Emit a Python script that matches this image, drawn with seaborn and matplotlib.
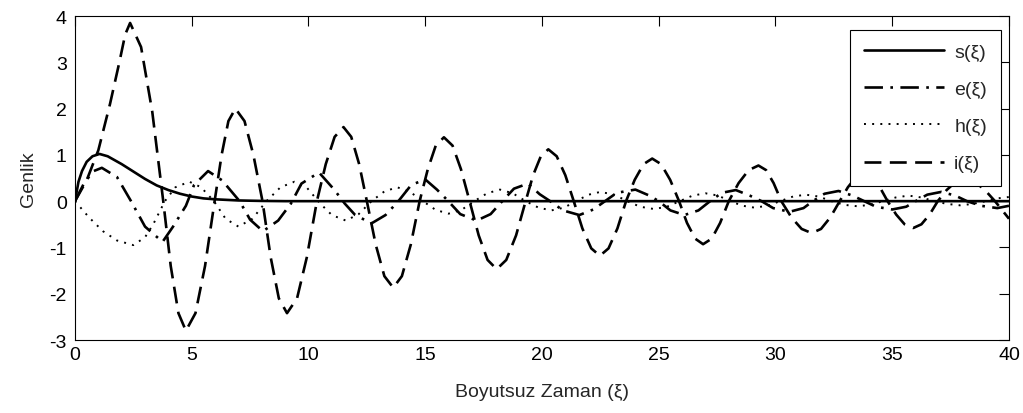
import matplotlib
matplotlib.use('Agg')
import matplotlib.pyplot as plt
import seaborn as sns

# s(xi) - solid
s_x = [0, 0.15, 0.3, 0.5, 0.75, 1.05, 1.4, 2.0, 2.5, 3.0, 3.5, 4.0, 4.5, 5.0, 5.5, 6.0, 7.0, 8.0, 9.0, 40.0]
s_y = [0, 0.42, 0.65, 0.85, 0.97, 1.02, 0.97, 0.8, 0.64, 0.48, 0.34, 0.24, 0.16, 0.1, 0.06, 0.04, 0.015, 0.005, 0.0, 0.0]

# e(xi) - dash-dot
e_x = [0, 0.4, 0.8, 1.15, 1.8, 2.4, 3.0, 3.75, 4.2, 4.75, 5.1, 5.7, 6.3, 7.05, 7.5, 8.05,
       8.7, 9.25, 9.7, 10.45, 11.1, 11.55, 12.0, 12.7, 13.3, 13.85, 14.4, 15.0, 15.5, 15.95,
       16.5, 17.2, 17.8, 18.3, 18.8, 19.4, 19.9, 20.35, 20.9, 21.6, 22.2, 22.7, 23.2, 24.0,
       24.6, 25.0, 25.5, 26.1, 26.7, 27.2, 27.7, 28.3, 28.9, 29.4, 29.9, 30.6, 31.2, 31.6,
       32.1, 32.7, 33.3, 33.8, 34.3, 35.0, 35.6, 36.0, 36.5, 37.1, 37.7, 38.2, 38.8, 39.5, 40.0]
e_y = [0, 0.4, 0.65, 0.72, 0.52, 0.0, -0.55, -0.88, -0.55, -0.1, 0.35, 0.65, 0.45, 0.0, -0.4, -0.65,
       -0.42, -0.05, 0.38, 0.62, 0.25, -0.05, -0.3, -0.48, -0.3, 0.0, 0.35, 0.47, 0.25, 0.02,
       -0.28, -0.42, -0.28, 0.0, 0.27, 0.38, 0.15, 0.0, -0.2, -0.3, -0.18, 0.0, 0.18, 0.25,
       0.12, 0.0, -0.2, -0.3, -0.2, 0.0, 0.18, 0.24, 0.12, 0.0, -0.15, -0.23, -0.15, 0.0,
       0.16, 0.22, 0.12, 0.0, -0.12, -0.18, -0.12, 0.0, 0.14, 0.2, 0.12, 0.0, -0.1, -0.15, -0.1]

# h(xi) - dotted
h_x = [0, 0.6, 1.2, 1.8, 2.5, 3.0, 3.35, 3.85, 4.3, 4.9, 5.4, 5.95, 6.45, 7.0, 7.6, 8.2,
       8.8, 9.4, 9.95, 10.5, 11.0, 11.6, 12.15, 12.7, 13.25, 13.8, 14.35, 14.9, 15.45, 16.0,
       16.55, 17.1, 17.65, 18.2, 18.75, 19.3, 19.85, 20.4, 20.95, 21.45, 22.0, 22.5, 23.1,
       23.65, 24.2, 24.8, 25.35, 25.9, 26.45, 27.0, 27.55, 28.05, 28.6, 29.1, 29.65, 30.2,
       30.75, 31.3, 31.85, 32.4, 32.95, 33.5, 34.05, 34.6, 35.15, 35.7, 36.25, 36.8, 37.35,
       37.9, 38.45, 39.0, 39.5, 40.0]
h_y = [0, -0.35, -0.65, -0.85, -0.95, -0.78, -0.5, 0.0, 0.3, 0.42, 0.3, 0.0, -0.38, -0.55, -0.38, 0.0,
       0.3, 0.42, 0.28, -0.05, -0.3, -0.42, -0.28, 0.0, 0.21, 0.3, 0.2, 0.0, -0.19, -0.27,
       -0.19, 0.0, 0.17, 0.25, 0.17, 0.0, -0.14, -0.2, -0.14, 0.0, 0.14, 0.2, 0.14,
       0.0, -0.12, -0.17, -0.12, 0.0, 0.12, 0.17, 0.12, 0.0, -0.1, -0.14, -0.1, 0.0,
       0.1, 0.14, 0.1, 0.0, -0.08, -0.11, -0.08, 0.0, 0.08, 0.12, 0.08, 0.0, -0.06,
       -0.09, -0.06, 0.0, 0.06, 0.09]

# i(xi) - dashed
i_x = [0, 0.5, 1.0, 1.5, 1.9, 2.15, 2.36, 2.83, 3.31, 3.78, 4.1, 4.43, 4.75, 5.16, 5.57, 5.98,
       6.28, 6.57, 6.87, 7.26, 7.64, 8.03, 8.38, 8.73, 9.08, 9.51, 9.93, 10.36, 10.74, 11.12,
       11.5, 11.83, 12.17, 12.5, 12.88, 13.25, 13.63, 14.0, 14.38, 14.76, 15.11, 15.45, 15.8,
       16.17, 16.53, 16.9, 17.29, 17.67, 18.06, 18.47, 18.89, 19.3, 19.62, 19.95, 20.27,
       20.63, 21.0, 21.36, 21.73, 22.11, 22.48, 22.85, 23.23, 23.6, 23.97, 24.35, 24.72,
       25.1, 25.49, 25.87, 26.21, 26.56, 26.9, 27.27, 27.63, 28.0, 28.42, 28.85, 29.27,
       29.6, 29.92, 30.25, 30.68, 31.12, 31.55, 31.95, 32.35, 32.75, 33.1, 33.45, 33.8,
       34.13, 34.47, 34.8, 35.17, 35.53, 35.9, 36.25, 36.6, 36.95, 37.33, 37.72, 38.1,
       38.53, 38.97, 39.4, 40.0]
i_y = [0, 0.45, 1.1, 2.1, 3.0, 3.6, 3.85, 3.33, 1.93, 0.0, -1.4, -2.42, -2.8, -2.42, -1.4, 0.0,
       1.0, 1.73, 2.0, 1.73, 1.0, 0.0, -1.21, -2.1, -2.42, -2.1, -1.21, 0.0, 0.8, 1.39,
       1.6, 1.39, 0.8, 0.0, -0.94, -1.62, -1.87, -1.62, -0.94, 0.0, 0.69, 1.2, 1.38,
       1.2, 0.69, 0.0, -0.74, -1.27, -1.47, -1.27, -0.74, 0.0, 0.56, 0.97, 1.12,
       0.97, 0.56, 0.0, -0.59, -1.02, -1.18, -1.02, -0.59, 0.0, 0.46, 0.8, 0.92,
       0.8, 0.46, 0.0, -0.47, -0.81, -0.93, -0.81, -0.47, 0.0, 0.39, 0.67, 0.77,
       0.67, 0.39, 0.0, -0.35, -0.6, -0.69, -0.6, -0.35, 0.0, 0.3, 0.52, 0.6,
       0.52, 0.3, 0.0, -0.29, -0.5, -0.58, -0.5, -0.29, 0.0, 0.24, 0.42, 0.48,
       0.42, 0.24, 0.0, -0.38]

labels = ['s(ξ)', 'e(ξ)', 'h(ξ)', 'i(ξ)']

sns.set_theme(style='white')
plt.rcParams['font.family'] = ['Liberation Sans', 'DejaVu Sans']
plt.rcParams['font.size'] = 14
plt.rcParams['axes.unicode_minus'] = False
plt.rcParams['axes.linewidth'] = 0.8
plt.rcParams['axes.edgecolor'] = 'black'

fig = plt.figure(figsize=(10.23, 4.14), dpi=100)
ax = fig.add_axes([0.0733, 0.1763, 0.913, 0.7826])

common = dict(ax=ax, color='black', estimator=None, sort=False,
              solid_joinstyle='round', dash_joinstyle='round')
sns.lineplot(x=s_x, y=s_y, lw=1.9, linestyle='-', label=labels[0], **common)
sns.lineplot(x=e_x, y=e_y, lw=1.9, linestyle=(0, (7, 2.8, 1, 2.8)), label=labels[1], **common)
sns.lineplot(x=h_x, y=h_y, lw=1.4, linestyle=(0, (1, 3.2)), label=labels[2], **common)
sns.lineplot(x=i_x, y=i_y, lw=1.9, linestyle=(0, (6.4, 3.2)), label=labels[3], **common)

ax.set_xlim(0, 40)
ax.set_ylim(-3, 4)
ax.set_xticks(range(0, 41, 5))
ax.set_yticks(range(-3, 5))
ax.tick_params(direction='in', length=7, width=0.8, top=True, right=True,
               labelsize=14, colors='black', pad=4)
ax.tick_params(axis='y', pad=6)
ax.set_xlabel('Boyutsuz Zaman (ξ)', fontsize=14, labelpad=15)
ax.set_ylabel('Genlik', fontsize=14, labelpad=9)
for sp in ax.spines.values():
    sp.set_color('black')

leg = ax.legend(loc='upper right', bbox_to_anchor=(0.991, 0.957), borderaxespad=0,
                fancybox=False, edgecolor='black', framealpha=1, handlelength=4.1,
                handletextpad=0.55, labelspacing=1.0, borderpad=0.7, fontsize=14)
leg.get_frame().set_linewidth(0.8)

fig.savefig('out.png', dpi=100)
